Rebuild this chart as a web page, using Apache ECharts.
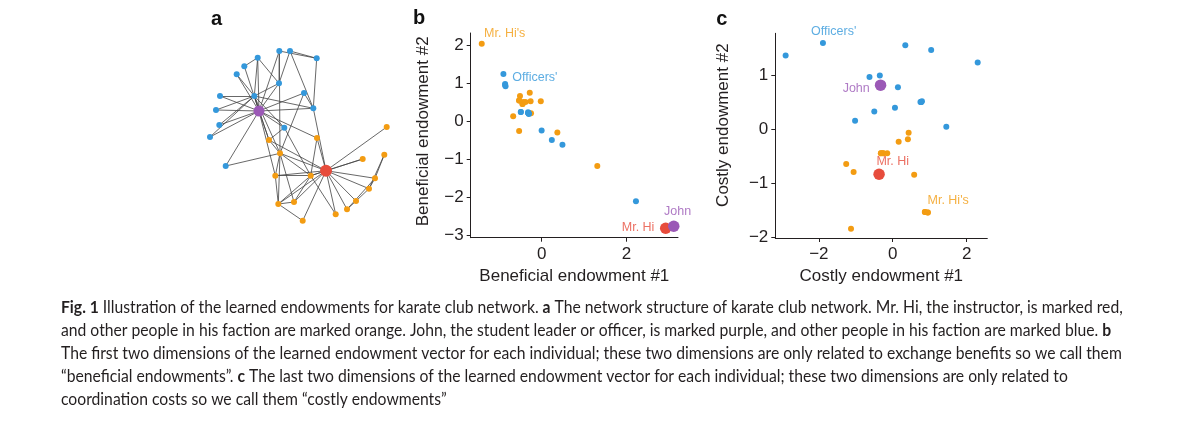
<!DOCTYPE html>
<html><head><meta charset="utf-8">
<script src="https://cdn.jsdelivr.net/npm/echarts@6/dist/echarts.min.js"></script>
<style>html,body{margin:0;padding:0;background:#fff}#c{width:1200px;height:423px}</style>
</head><body><div id="c"></div>
<script>
// ---------- Panel a: karate club network (Zachary) ----------
// layout coordinates of the 34 members (arbitrary layout units)
const nodeLayout = [
 [116.0,119.7],[100.7,124.7],[70.0,102.3],[68.3,153.0],[146.0,150.0],[165.0,127.3],[159.0,137.7],[84.0,151.0],
 [59.0,89.0],[15.7,115.0],[137.0,158.3],[176.7,76.0],[92.7,169.7],[65.3,124.7],[0,86.0],[9.3,74.0],
 [174.3,103.7],[125.7,163.3],[6.0,59.0],[107.0,87.0],[10.0,45.0],[152.7,108.0],[26.7,23.3],[69.0,32.3],
 [106.7,7.3],[80.0,0],[34.3,15.3],[69.3,0],[94.0,42.0],[47.7,6.7],[74.3,76.7],[103.3,57.3],[44.3,45.0],[49.0,60.0]
];
// faction of each member: H = Mr. Hi's, O = Officers'; 0 = Mr. Hi, 33 = John
const nodeFaction = ['MrHi','H','H','H','H','H','H','H','H','O','H','H','H','H','O','O','H','H','O','H','O','H','O','O','O','O','O','O','O','O','O','O','O','John'];
const edges = [
 [0,1],[0,2],[0,3],[0,4],[0,5],[0,6],[0,7],[0,8],[0,10],[0,11],[0,12],[0,13],[0,17],[0,19],[0,21],[0,31],
 [1,2],[1,3],[1,7],[1,13],[1,17],[1,19],[1,21],[1,30],
 [2,3],[2,7],[2,8],[2,9],[2,13],[2,27],[2,28],[2,32],
 [3,7],[3,12],[3,13],[4,6],[4,10],[5,6],[5,10],[5,16],[6,16],
 [8,30],[8,32],[8,33],[9,33],[13,33],[14,32],[14,33],[15,32],[15,33],[18,32],[18,33],[19,33],
 [20,32],[20,33],[22,32],[22,33],[23,25],[23,27],[23,29],[23,32],[23,33],[24,25],[24,27],[24,31],
 [25,31],[26,29],[26,33],[27,33],[28,31],[28,33],[29,32],[29,33],[30,32],[30,33],[31,32],[31,33],[32,33]
];

// ---------- Panel b: beneficial endowments ----------
const bHi = [[-1.41,2.04],[-0.67,0.13],[-0.53,-0.26],[-0.51,0.66],[-0.53,0.54],[-0.43,0.50],[-0.45,0.45],
 [-0.28,0.75],[-0.26,0.52],[-0.25,0.21],[-0.02,0.52],[0.37,-0.30],[1.31,-1.18],[-0.45,0.45],[-0.53,0.54],[-0.38,0.50]];
const bOfficers = [[-0.90,1.24],[-0.86,0.98],[-0.85,0.92],[-0.49,0.24],[-0.32,0.23],[-0.30,0.19],[0.00,-0.25],
 [0.24,-0.50],[0.49,-0.62],[2.22,-2.11],[-0.31,0.21],[-0.31,0.21],[-0.31,0.21],[-0.31,0.21],[-0.86,0.95],[-0.49,0.24]];
const bMrHi = [[2.92,-2.82]];
const bJohn = [[3.11,-2.77]];
const bLabels = [[-0.87,2.31,"Mr. Hi's",'H'],[-0.16,1.15,"Officers'",'O'],[3.20,-2.38,'John','John'],[2.27,-2.81,'Mr. Hi','MrHi']];
const bXTicks = [0,2];
const bYTicks = [-3,-2,-1,0,1,2];

// ---------- Panel c: costly endowments ----------
const cHi = [[0.43,-0.06],[0.41,-0.18],[0.16,-0.23],[-0.32,-0.44],[-0.26,-0.44],[-0.15,-0.44],[-1.26,-0.64],
 [-1.06,-0.79],[0.58,-0.84],[0.87,-1.53],[0.95,-1.54],[-1.13,-1.84],[-0.26,-0.44],[0.87,-1.53],[0.95,-1.54],[-0.32,-0.44]];
const cOfficers = [[-2.90,1.37],[-1.89,1.60],[0.34,1.56],[1.04,1.47],[2.30,1.24],[-0.63,0.97],[-0.35,1.00],
 [0.14,0.78],[0.77,0.51],[-0.50,0.33],[0.06,0.40],[-1.02,0.16],[1.45,0.05],[0.77,0.51],[0.79,0.52],[0.75,0.51]];
const cMrHi = [[-0.37,-0.83]];
const cJohn = [[-0.33,0.82]];
const cLabels = [[-1.60,1.81,"Officers'",'O'],[-0.99,0.76,'John','John'],[0.0,-0.60,'Mr. Hi','MrHi'],[1.50,-1.31,"Mr. Hi's",'H']];
const cXTicks = [-2,0,2];
const cYTicks = [-2,-1,0,1];

const axisNames = {bx:'Beneficial endowment #1', by:'Beneficial endowment #2', cx:'Costly endowment #1', cy:'Costly endowment #2'};
const panelLetters = ['a','b','c'];

const captionLines = [
 [['b','Fig. 1'],['n',' Illustration of the learned endowments for karate club network. '],['b','a'],['n',' The network structure of karate club network. Mr. Hi, the instructor, is marked red,']],
 [['n','and other people in his faction are marked orange. John, the student leader or officer, is marked purple, and other people in his faction are marked blue. '],['b','b']],
 [['n','The first two dimensions of the learned endowment vector for each individual; these two dimensions are only related to exchange benefits so we call them']],
 [['n','\u201cbeneficial endowments\u201d. '],['b','c'],['n',' The last two dimensions of the learned endowment vector for each individual; these two dimensions are only related to']],
 [['n','coordination costs so we call them \u201ccostly endowments\u201d']]
];

// ---------- styling ----------
const COL = {H:'#f39c12', O:'#3498db', MrHi:'#e74c3c', John:'#9b59b6'};
const INK = '#231f20';
const FONT = "'Liberation Sans', Arial, Helvetica, sans-serif";
const CAPFONT = 'Lato';
const CAPSIZE = 17;

const minusFmt = v => v < 0 ? '\u2212' + Math.abs(v) : String(v);

function xAxis(gi, min, max, ticks, name) {
  return {type:'value', gridIndex:gi, min, max, name, nameLocation:'middle', nameGap:30,
    nameTextStyle:{fontSize:17, color:INK, fontFamily:FONT},
    axisLine:{show:true, onZero:false, lineStyle:{color:INK, width:1}},
    axisTick:{show:true, inside:false, length:4, customValues:ticks, lineStyle:{color:INK}},
    axisLabel:{show:true, customValues:ticks, formatter:minusFmt, fontSize:17, color:INK, fontFamily:FONT, margin:8},
    splitLine:{show:false}};
}
function yAxis(gi, min, max, ticks, name, gap, shift) {
  return {type:'value', gridIndex:gi, min, max, name, nameLocation:'middle', nameGap:gap, nameRotate:90,
    nameTextStyle:{fontSize:17, color:INK, fontFamily:FONT, padding:[0,0,0,shift]},
    axisLine:{show:true, onZero:false, lineStyle:{color:INK, width:1}},
    axisTick:{show:true, inside:false, length:4, customValues:ticks, lineStyle:{color:INK}},
    axisLabel:{show:true, customValues:ticks, formatter:minusFmt, fontSize:17, color:INK, fontFamily:FONT, margin:7},
    splitLine:{show:false}};
}
function pts(gi, data, key, size, z) {
  return {type:'scatter', xAxisIndex:gi, yAxisIndex:gi, data, symbolSize:size, z,
    itemStyle:{color:COL[key], opacity:1}, silent:true, animation:false};
}
function labels(gi, arr) {
  return {type:'scatter', xAxisIndex:gi, yAxisIndex:gi, clip:false, symbolSize:0, z:10, silent:true, animation:false,
    data: arr.map(l => ({value:[l[0], l[1]], name:l[2],
      label:{show:true, position:'inside', formatter:l[2], color:COL[l[3]], fontSize:12.5, fontFamily:FONT}}))};
}

// caption measurement -> uniform horizontal scale
const ctx = document.createElement('canvas').getContext('2d');
function tw(t, bold) { ctx.font = (bold ? 'bold ' : '') + CAPSIZE + 'px ' + CAPFONT; return ctx.measureText(t).width; }
const capScale = 327 / (tw('Fig. 1', true) + tw(' Illustration of the learned endowments fo', false));

const graphics = [];
const letterPos = [[216.5,19],[419,18],[721.7,19]];
panelLetters.forEach((t,i) => graphics.push({type:'text', x:letterPos[i][0], y:letterPos[i][1], silent:true,
  style:{text:t, fontSize:20, fontWeight:'bold', fontFamily:FONT, fill:'#111', align:'center', verticalAlign:'middle'}}));
captionLines.forEach((segs, i) => {
  graphics.push({type:'text', x:61, y:308 + i*23, scaleX:capScale, silent:true,
    style:{text: segs.map(s => '{' + s[0] + '|' + s[1] + '}').join(''), x:0, y:0, verticalAlign:'middle', align:'left',
      fill:INK, fontSize:CAPSIZE, fontFamily:CAPFONT,
      rich:{b:{fontWeight:'bold', fontSize:CAPSIZE, fontFamily:CAPFONT, fill:INK}, n:{fontSize:CAPSIZE, fontFamily:CAPFONT, fill:INK}}}});
});

const sizeOf = f => (f === 'MrHi' ? 12 : f === 'John' ? 11 : 6);
const chart = echarts.init(document.getElementById('c'), null, {renderer:'canvas'});
chart.setOption({
  animation:false,
  backgroundColor:'#fff',
  grid:[{left:470.7, top:33, width:207.3, height:204.7, outerBoundsMode:'none'},
        {left:775.3, top:33.3, width:212, height:204.7, outerBoundsMode:'none'}],
  xAxis:[xAxis(0,-1.67,3.21,bXTicks,axisNames.bx), xAxis(1,-3.18,2.56,cXTicks,axisNames.cx)],
  yAxis:[yAxis(0,-3.07,2.32,bYTicks,axisNames.by,39,8), yAxis(1,-2.01,1.78,cYTicks,axisNames.cy,43,21)],
  graphic:graphics,
  series:[
    {type:'graph', layout:'none', left:210, top:51, width:176.7, height:169.7, silent:true, z:2,
     data: nodeLayout.map((p,i) => ({name:String(i), x:p[0], y:p[1], symbolSize:sizeOf(nodeFaction[i]),
       itemStyle:{color:COL[nodeFaction[i]]}})),
     links: edges.map(e => ({source:String(e[0]), target:String(e[1])})),
     lineStyle:{color:'#444', width:0.9, opacity:0.9, curveness:0},
     label:{show:false}, emphasis:{disabled:true}},
    pts(0,bHi,'H',6,3), pts(0,bOfficers,'O',6,4), pts(0,bMrHi,'MrHi',11.5,5), pts(0,bJohn,'John',11.5,6), labels(0,bLabels),
    pts(1,cHi,'H',6,3), pts(1,cOfficers,'O',6,4), pts(1,cMrHi,'MrHi',11.5,5), pts(1,cJohn,'John',11.5,6), labels(1,cLabels)
  ]
});
</script></body></html>
